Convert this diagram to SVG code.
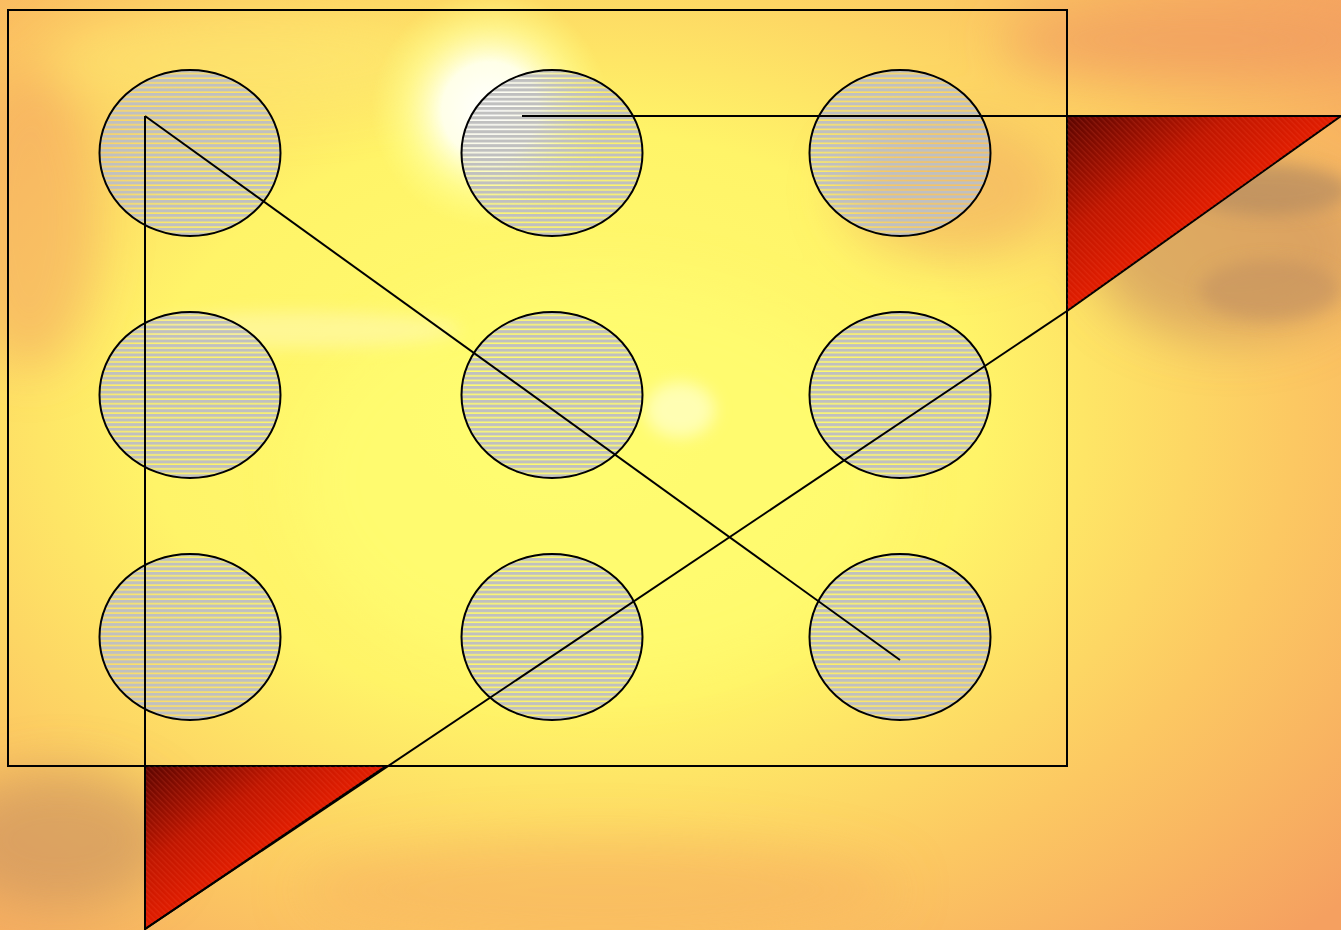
<svg xmlns="http://www.w3.org/2000/svg" width="1341" height="930" viewBox="0 0 1341 930">
<defs>
<style>
.ov{stroke:#000;stroke-width:2;fill:url(#stripes)}
.ln{stroke:#000;stroke-width:2;fill:none}
.tri{stroke:#000;stroke-width:2}
</style>
<pattern id="stripes" patternUnits="userSpaceOnUse" width="20" height="4.65">
<rect x="0" y="0" width="20" height="3.1" fill="#c0c0c0"/>
</pattern>
<linearGradient id="redg" x1="0" y1="0" x2="1" y2="1">
<stop offset="0" stop-color="#5a0400"/>
<stop offset="0.3" stop-color="#c01600"/>
<stop offset="0.6" stop-color="#f02000"/>
</linearGradient>
<pattern id="hatch" patternUnits="userSpaceOnUse" width="4" height="4" patternTransform="rotate(45)">
<rect width="4" height="1.3" fill="#ff6040" opacity="0.18"/>
</pattern>
<radialGradient id="bg" cx="0.42" cy="0.45" r="0.78">
<stop offset="0" stop-color="#fffc70"/>
<stop offset="0.4" stop-color="#fff468"/>
<stop offset="0.7" stop-color="#fcc862"/>
<stop offset="1" stop-color="#f5a060"/>
</radialGradient>
<radialGradient id="sun" cx="0.5" cy="0.5" r="0.5">
<stop offset="0" stop-color="#ffffff"/>
<stop offset="0.4" stop-color="#ffffe8"/>
<stop offset="0.7" stop-color="#ffffa0" stop-opacity="0.6"/>
<stop offset="1" stop-color="#ffff80" stop-opacity="0"/>
</radialGradient>
<filter id="blur" x="-50%" y="-50%" width="200%" height="200%"><feGaussianBlur stdDeviation="25"/></filter>
<filter id="blur2" x="-50%" y="-50%" width="200%" height="200%"><feGaussianBlur stdDeviation="8"/></filter>
</defs>
<g id="background">
<rect width="1341" height="930" fill="url(#bg)"/>
<g filter="url(#blur)">
<ellipse cx="1230" cy="250" rx="140" ry="90" fill="#c89060" opacity="0.6"/>
<ellipse cx="1200" cy="40" rx="200" ry="40" fill="#f09a60" opacity="0.7"/>
<ellipse cx="60" cy="840" rx="110" ry="70" fill="#c89060" opacity="0.6"/>
<ellipse cx="30" cy="220" rx="70" ry="150" fill="#f4a060" opacity="0.5"/>
<ellipse cx="250" cy="60" rx="200" ry="50" fill="#fde870" opacity="0.6"/>
<ellipse cx="950" cy="190" rx="110" ry="70" fill="#f0a060" opacity="0.5"/>
<ellipse cx="600" cy="890" rx="300" ry="50" fill="#f8b060" opacity="0.5"/>
<ellipse cx="600" cy="480" rx="300" ry="200" fill="#fffc70" opacity="0.7"/>
</g>
<g filter="url(#blur2)">
<ellipse cx="300" cy="330" rx="160" ry="18" fill="#fff8b0" opacity="0.6"/>
<ellipse cx="680" cy="410" rx="35" ry="28" fill="#ffffd0" opacity="0.7"/>
<ellipse cx="1270" cy="190" rx="80" ry="25" fill="#b08860" opacity="0.6"/>
<ellipse cx="1270" cy="290" rx="70" ry="30" fill="#c09060" opacity="0.5"/>
</g>
<circle cx="490" cy="110" r="120" fill="url(#sun)"/>
</g>
<g id="frame"><rect x="8" y="10" width="1059" height="756" class="ln"/></g>
<g id="circles">
<ellipse id="c11" cx="190" cy="153" rx="90.5" ry="83" class="ov"/>
<ellipse id="c12" cx="552" cy="153" rx="90.5" ry="83" class="ov"/>
<ellipse id="c13" cx="900" cy="153" rx="90.5" ry="83" class="ov"/>
<ellipse id="c21" cx="190" cy="395" rx="90.5" ry="83" class="ov"/>
<ellipse id="c22" cx="552" cy="395" rx="90.5" ry="83" class="ov"/>
<ellipse id="c23" cx="900" cy="395" rx="90.5" ry="83" class="ov"/>
<ellipse id="c31" cx="190" cy="637" rx="90.5" ry="83" class="ov"/>
<ellipse id="c32" cx="552" cy="637" rx="90.5" ry="83" class="ov"/>
<ellipse id="c33" cx="900" cy="637" rx="90.5" ry="83" class="ov"/>
</g>
<g id="triangles">
<g id="tri-top">
<polygon points="1067,116 1341,116 1067,311" fill="url(#redg)" class="tri"/>
<polygon points="1067,116 1341,116 1067,311" fill="url(#hatch)"/>
</g>
<g id="tri-bottom">
<polygon points="145,766 386,766 145,929" fill="url(#redg)" class="tri"/>
<polygon points="145,766 386,766 145,929" fill="url(#hatch)"/>
</g>
</g>
<g id="connectors">
<line x1="145" y1="116" x2="145" y2="930" class="ln"/>
<line x1="145" y1="116" x2="900" y2="660" class="ln"/>
<line x1="522" y1="116" x2="1341" y2="116" class="ln"/>
<line x1="145" y1="929" x2="1067" y2="311" class="ln"/>
</g>
</svg>
